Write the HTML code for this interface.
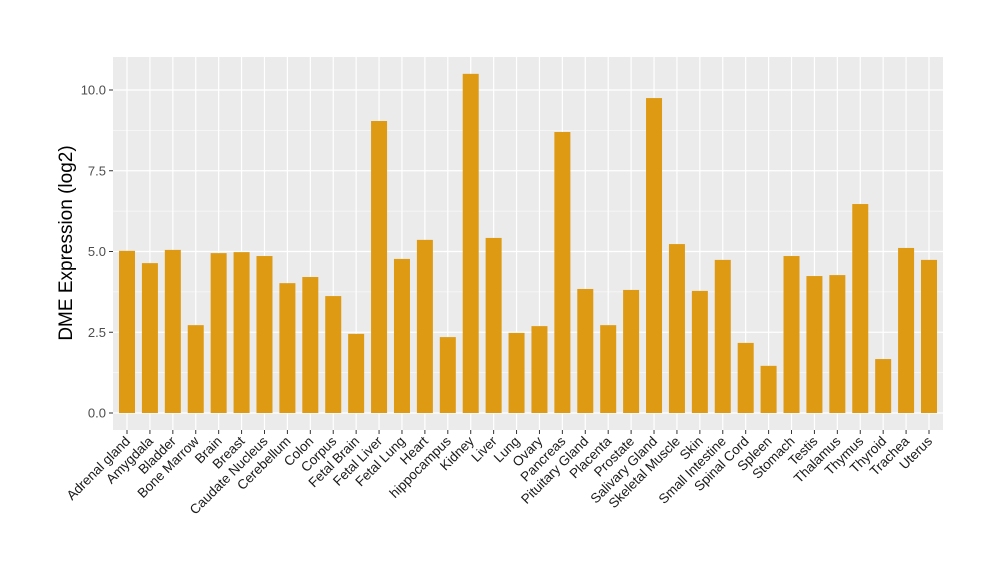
<!DOCTYPE html>
<html><head><meta charset="utf-8"><style>body{margin:0;background:#fff}svg{display:block;font-family:"Liberation Sans",sans-serif}</style></head>
<body>
<svg id="chart" width="1000" height="580" xmlns="http://www.w3.org/2000/svg">
<rect x="113" y="57" width="830" height="373" fill="#EBEBEB"/>
<g id="grid"></g><g id="bars"></g><g id="axes"></g>
<text transform="translate(72,243) rotate(-90)" text-anchor="middle" font-size="19" fill="#000">DME Expression (log2)</text>
</svg>
<script>
const categories=["Adrenal gland","Amygdala","Bladder","Bone Marrow","Brain","Breast","Caudate Nucleus","Cerebellum","Colon","Corpus","Fetal Brain","Fetal Liver","Fetal Lung","Heart","hippocampus","Kidney","Liver","Lung","Ovary","Pancreas","Pituitary Gland","Placenta","Prostate","Salivary Gland","Skeletal Muscle","Skin","Small Intestine","Spinal Cord","Spleen","Stomach","Testis","Thalamus","Thymus","Thyroid","Trachea","Uterus"];
const values=[5.02,4.64,5.05,2.72,4.95,4.98,4.86,4.02,4.21,3.62,2.45,9.04,4.77,5.36,2.35,10.5,5.42,2.48,2.69,8.7,3.84,2.72,3.81,9.75,5.23,3.78,4.74,2.17,1.46,4.86,4.24,4.27,6.47,1.67,5.11,4.74];
const yTicks=[0,2.5,5,7.5,10];
const yTickLabels=["0.0","2.5","5.0","7.5","10.0"];
const NS="http://www.w3.org/2000/svg";
const y=v=>413-v*32.3;
const x=i=>127+i*((929-127)/35);
function mk(t,a,p){const e=document.createElementNS(NS,t);for(const k in a)e.setAttribute(k,a[k]);p.appendChild(e);return e;}
const grid=document.getElementById('grid'),bars=document.getElementById('bars'),axes=document.getElementById('axes');
for(let i=0;i<yTicks.length-1;i++){const m=(yTicks[i]+yTicks[i+1])/2;const g=mk('line',{x1:113,x2:943,y1:y(m),y2:y(m),stroke:'#fff','stroke-width':0.6},grid);

}
yTicks.forEach((v,i)=>{const g=mk('line',{x1:113,x2:943,y1:y(v),y2:y(v),stroke:'#fff','stroke-width':1.2},grid);


const t=mk('line',{x1:109,x2:113,y1:y(v),y2:y(v),stroke:'#333'},axes);


const l=mk('text',{x:106,y:y(v)+4.5,'text-anchor':'end','font-size':13,fill:'#4d4d4d'},axes);l.textContent=yTickLabels[i];

});
categories.forEach((c,i)=>{const cx=x(i);
const g=mk('line',{x1:cx,x2:cx,y1:57,y2:430,stroke:'#fff','stroke-width':1.2},grid);


const b=mk('rect',{x:cx-8,y:y(values[i]),width:16,height:y(0)-y(values[i]),fill:'#DE9A13'},bars);


const t=mk('line',{x1:cx,x2:cx,y1:430,y2:434,stroke:'#333'},axes);


const l=mk('text',{transform:`translate(${cx+4},${442}) rotate(-45)`,'text-anchor':'end','font-size':13.5,fill:'#1a1a1a'},axes);l.textContent=c;

});
</script>
</body></html>
